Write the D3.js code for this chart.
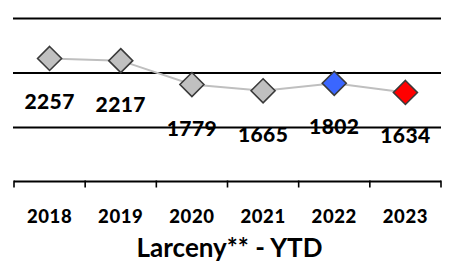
<!DOCTYPE html>
<html>
<head>
<meta charset="utf-8">
<script src="https://cdn.jsdelivr.net/npm/d3@7"></script>
<style>
  body { margin: 0; background: #fff; }
  text { font-family: Lato, "Open Sans", sans-serif; font-weight: bold; fill: #000; }
</style>
</head>
<body>
<div id="chart"></div>
<script>
// values
var years = ["2018", "2019", "2020", "2021", "2022", "2023"];
var counts = [2257, 2217, 1779, 1665, 1802, 1634];
var markerFill = ["#c0c0c0", "#c0c0c0", "#c0c0c0", "#c0c0c0", "#3a66ff", "#ff0000"];
var gridValues = [1000, 2000, 3000];
var title = "Larceny** - YTD";

var W = 450, H = 263;
var plotLeft = 14, plotRight = 441;
var plotTop = 18, plotBottom = 181.5;

var svg = d3.select("#chart").append("svg")
  .attr("width", W)
  .attr("height", H);

var x = d3.scaleBand()
  .domain(years)
  .range([plotLeft, plotRight]);

var y = d3.scaleLinear()
  .domain([0, 3000])
  .range([plotBottom, plotTop]);

// horizontal gridlines
svg.append("g")
  .attr("transform", "translate(" + plotLeft + ",0)")
  .call(d3.axisLeft(y).tickValues(gridValues).tickSize(-(plotRight - plotLeft)).tickFormat(""))
  .call(g => g.select(".domain").remove())
  .call(g => g.selectAll("line").attr("x1", -1).attr("stroke", "#000").attr("stroke-width", 1.8));

// x axis: line with ticks at category boundaries
var axisG = svg.append("g")
  .attr("transform", "translate(0," + plotBottom + ")");

axisG.append("line")
  .attr("x1", plotLeft).attr("x2", plotRight)
  .attr("stroke", "#000").attr("stroke-width", 1.8);

var edges = years.map(d => x(d)).concat([x(years[years.length - 1]) + x.bandwidth()]);
axisG.selectAll(".edge")
  .data(edges)
  .enter().append("line")
  .attr("class", "edge")
  .attr("x1", d => d).attr("x2", d => d)
  .attr("y1", -1).attr("y2", 6)
  .attr("stroke", "#000").attr("stroke-width", 1.6);

// year labels
svg.append("g")
  .attr("transform", "translate(0," + plotBottom + ")")
  .call(d3.axisBottom(x).tickSize(0).tickPadding(0))
  .call(g => g.select(".domain").remove())
  .call(g => g.selectAll("text")
      .attr("y", 41.5)
      .attr("dy", null)
      .attr("fill", "#000")
      .style("font-size", "18.5px")
      .style("font-weight", "900")
      .style("letter-spacing", "0.6px"));

// line
var pts = years.map((d, i) => ({ year: d, value: counts[i], fill: markerFill[i] }));

svg.append("path")
  .datum(pts)
  .attr("fill", "none")
  .attr("stroke", "#bfbfbf")
  .attr("stroke-width", 2)
  .attr("d", d3.line()
    .x(d => x(d.year) + x.bandwidth() / 2)
    .y(d => y(d.value)));

// diamond markers
svg.selectAll(".marker")
  .data(pts)
  .enter().append("path")
  .attr("class", "marker")
  .attr("transform", d => "translate(" + (x(d.year) + x.bandwidth() / 2) + "," + y(d.value) + ")")
  .attr("d", "M0,-12L12,0L0,12L-12,0Z")
  .attr("fill", d => d.fill)
  .attr("stroke", "#3a3a3a")
  .attr("stroke-width", 1.6);

// value labels
svg.selectAll(".val")
  .data(pts)
  .enter().append("text")
  .attr("class", "val")
  .attr("x", d => x(d.year) + x.bandwidth() / 2)
  .attr("y", d => y(d.value) + 51)
  .attr("text-anchor", "middle")
  .style("font-size", "21px")
  .style("font-weight", "900")
  .style("letter-spacing", "0.4px")
  .text(d => d.value);

// title
svg.append("text")
  .attr("x", (plotLeft + plotRight) / 2 + 2)
  .attr("y", 257)
  .attr("text-anchor", "middle")
  .style("font-size", "26px")
  .text(title);
</script>
</body>
</html>
